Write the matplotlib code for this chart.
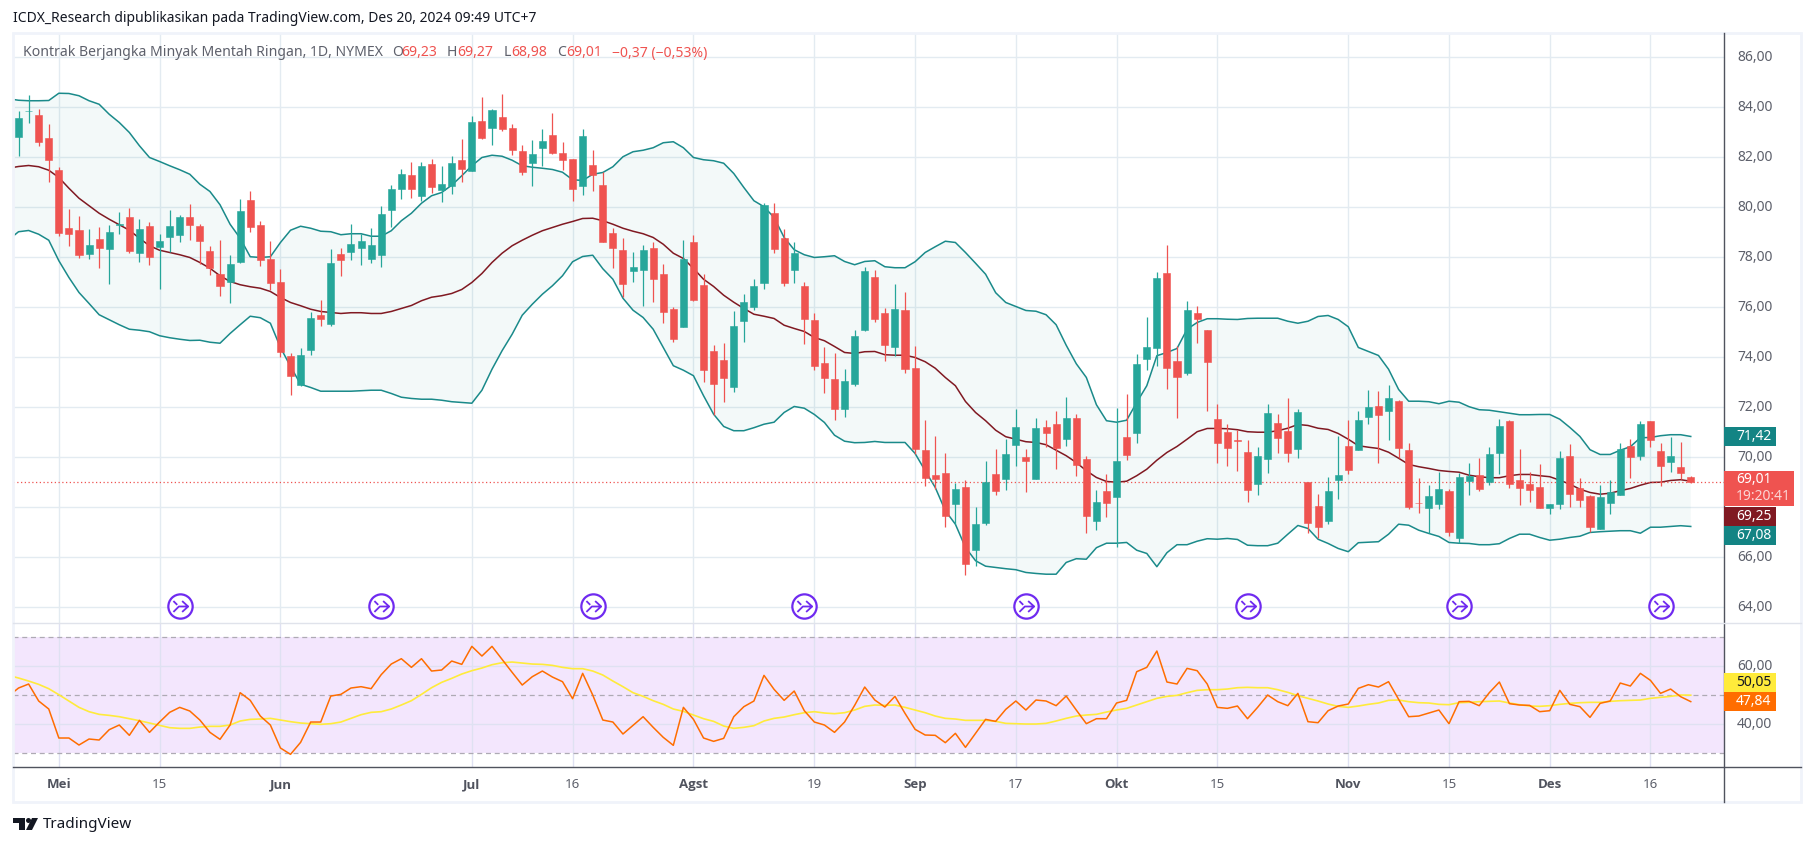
import matplotlib
matplotlib.use('Agg')
import matplotlib.pyplot as plt
from matplotlib.patches import Rectangle, Circle, Polygon
from matplotlib.path import Path
from matplotlib.transforms import ScaledTranslation

plt.rcParams['font.family'] = ['Noto Sans', 'DejaVu Sans']

# daily OHLC
opens = [82.83, 83.85, 83.71, 82.79, 81.51, 79.19, 79.11, 78.15, 78.75, 78.35,
         79.30, 79.63, 78.19, 79.27, 78.43, 78.83, 78.91, 79.63, 79.27, 78.27,
         77.35, 77.03, 77.83, 80.31, 79.31, 77.95, 77.03, 74.07, 72.91, 74.31,
         75.71, 75.35, 78.15, 78.23, 78.39, 77.95, 78.11, 79.91, 80.75, 81.31,
         80.47, 81.75, 80.71, 80.87, 81.91, 81.47, 83.47, 83.19, 83.63, 83.19,
         82.27, 81.79, 82.39, 82.91, 82.19, 81.95, 80.87, 81.71, 80.91, 78.99,
         78.31, 77.47, 77.51, 78.39, 77.35, 75.95, 75.23, 78.63, 76.91, 74.27,
         73.91, 72.83, 75.47, 76.03, 76.99, 79.79, 78.79, 77.51, 76.87, 75.51,
         73.79, 73.15, 71.95, 72.95, 75.11, 77.23, 75.79, 74.43, 75.91, 73.59,
         70.31, 69.31, 69.39, 68.15, 68.83, 66.31, 67.39, 69.35, 69.15, 70.51,
         70.03, 69.15, 71.23, 71.35, 70.75, 71.59, 69.95, 67.47, 68.67, 68.43,
         70.83, 70.99, 73.95, 74.39, 77.39, 73.87, 73.39, 75.79, 75.11, 71.55,
         71.03, 70.71, 70.23, 68.95, 69.95, 71.39, 71.07, 70.35, 69.03, 68.07,
         67.47, 69.11, 70.47, 70.31, 71.63, 72.07, 71.87, 72.27, 70.31, 68.19,
         67.99, 68.15, 68.67, 66.79, 69.07, 69.31, 69.03, 70.19, 71.47, 69.11,
         68.95, 68.83, 67.99, 68.15, 70.07, 68.79, 68.47, 67.15, 68.19, 68.51,
         70.47, 70.07, 71.47, 70.27, 69.83, 69.63, 69.23]
highs = [83.87, 84.51, 83.95, 83.35, 81.63, 79.95, 79.67, 79.15, 79.23, 79.31,
         79.83, 79.99, 79.55, 79.43, 78.95, 79.91, 79.71, 80.15, 79.35, 78.47,
         78.71, 78.11, 80.35, 80.67, 79.47, 78.67, 77.55, 74.19, 74.39, 75.83,
         76.31, 78.35, 78.39, 79.35, 78.95, 79.19, 80.07, 80.91, 81.55, 81.83,
         81.83, 81.95, 81.67, 82.07, 82.75, 83.67, 84.43, 83.95, 84.55, 83.35,
         82.51, 82.71, 83.15, 83.79, 82.63, 81.95, 83.15, 82.31, 81.40, 79.19,
         78.79, 78.23, 78.51, 78.63, 77.75, 76.03, 78.71, 78.91, 77.33, 74.51,
         74.59, 75.87, 76.55, 77.15, 80.19, 80.19, 79.15, 78.63, 77.03, 75.79,
         74.43, 74.19, 73.55, 75.11, 77.63, 77.51, 75.99, 76.95, 76.63, 74.47,
         71.51, 70.87, 70.19, 68.99, 69.11, 68.03, 69.87, 70.35, 70.75, 71.95,
         70.35, 71.59, 71.51, 71.87, 72.43, 71.75, 70.07, 68.71, 69.35, 71.99,
         72.55, 74.15, 75.63, 77.43, 78.51, 74.47, 76.27, 76.07, 75.11, 72.13,
         71.35, 71.11, 70.71, 70.43, 72.15, 71.75, 72.39, 71.95, 69.03, 68.55,
         69.23, 70.87, 71.51, 71.87, 72.71, 72.67, 72.91, 72.31, 70.59, 69.19,
         68.91, 69.43, 68.75, 69.39, 69.79, 69.99, 70.43, 71.55, 71.51, 70.35,
         69.43, 69.75, 68.15, 70.27, 70.55, 69.19, 68.51, 68.91, 69.11, 70.59,
         70.75, 71.47, 71.47, 70.59, 70.83, 70.63, 69.27]
lows = [82.04, 83.39, 82.44, 81.00, 78.87, 78.47, 77.96, 77.95, 77.59, 76.95,
        78.95, 78.19, 77.83, 77.71, 76.75, 78.23, 78.63, 78.71, 77.73, 77.31,
        76.47, 76.19, 77.79, 79.03, 77.67, 76.71, 74.03, 72.51, 72.87, 74.11,
        75.27, 75.27, 77.27, 77.91, 77.71, 77.79, 77.63, 79.23, 80.35, 80.39,
        80.27, 80.59, 80.23, 80.55, 81.03, 81.47, 82.75, 82.51, 83.07, 82.11,
        81.31, 80.87, 81.67, 82.15, 81.51, 80.27, 80.51, 80.67, 78.60, 77.59,
        76.43, 77.03, 76.07, 76.23, 75.39, 74.63, 75.23, 76.27, 73.03, 71.71,
        72.23, 72.63, 74.63, 75.91, 76.75, 78.19, 76.87, 76.99, 74.55, 73.51,
        72.59, 71.51, 71.63, 72.87, 75.07, 75.43, 73.87, 74.07, 73.39, 70.13,
        68.87, 68.75, 67.23, 67.35, 65.31, 65.67, 67.31, 68.51, 68.71, 69.67,
        68.63, 69.15, 70.43, 69.55, 70.47, 69.27, 66.99, 67.11, 67.63, 66.40,
        69.91, 70.56, 73.51, 73.67, 72.75, 71.59, 73.31, 74.59, 71.87, 69.76,
        69.67, 69.47, 68.23, 68.51, 69.39, 70.19, 69.83, 69.99, 66.99, 66.79,
        67.35, 68.35, 69.35, 70.31, 71.35, 69.79, 70.71, 69.99, 67.95, 67.79,
        66.99, 67.95, 66.87, 66.59, 68.51, 68.67, 68.91, 69.35, 68.79, 68.11,
        68.23, 67.99, 67.75, 67.95, 68.03, 68.03, 67.03, 67.15, 67.75, 68.51,
        69.19, 69.91, 70.43, 68.87, 69.43, 69.15, 68.98]
closes = [83.59, 83.86, 82.63, 81.91, 78.99, 78.95, 78.11, 78.51, 78.39, 79.03,
          79.32, 78.27, 79.15, 78.03, 78.67, 79.27, 79.63, 79.31, 78.67, 77.59,
          76.87, 77.75, 79.87, 79.23, 77.91, 76.99, 74.23, 73.27, 74.11, 75.59,
          75.55, 77.79, 77.91, 78.55, 78.67, 78.51, 79.75, 80.75, 81.35, 80.75,
          81.67, 80.83, 80.95, 81.79, 81.55, 83.43, 82.79, 83.91, 83.15, 82.31,
          81.43, 82.15, 82.67, 82.19, 81.91, 80.75, 82.87, 81.31, 78.63, 78.39,
          76.95, 77.63, 78.31, 77.15, 75.83, 74.75, 77.95, 76.31, 73.51, 72.95,
          73.19, 75.27, 76.23, 76.87, 80.11, 78.35, 76.99, 78.19, 75.55, 73.67,
          73.19, 71.95, 73.07, 74.87, 77.47, 75.55, 74.51, 75.95, 73.55, 70.35,
          69.19, 69.15, 67.67, 68.75, 65.75, 67.35, 69.03, 68.67, 70.15, 71.23,
          69.87, 71.19, 70.99, 70.39, 71.59, 69.71, 67.67, 68.23, 68.19, 69.87,
          70.11, 73.75, 74.43, 77.19, 73.59, 73.23, 75.91, 75.55, 73.83, 70.59,
          70.39, 70.67, 68.71, 70.07, 71.79, 70.79, 70.19, 71.83, 67.39, 67.23,
          68.67, 69.31, 69.51, 71.51, 72.03, 71.71, 72.39, 70.39, 68.03, 68.16,
          68.47, 68.75, 67.03, 69.23, 69.27, 68.75, 70.15, 71.27, 68.95, 68.79,
          68.71, 67.99, 68.15, 69.99, 68.55, 68.31, 67.23, 68.43, 68.63, 70.35,
          70.03, 71.35, 70.71, 69.67, 70.07, 69.39, 69.01]

# bollinger bands, first value sits one bar left of the first candle
bb_upper = [84.35, 84.29, 84.27, 84.27, 84.28, 84.57, 84.56, 84.47, 84.27, 84.13,
            83.73, 83.40, 83.00, 82.47, 82.00, 81.84, 81.67, 81.51, 81.33, 80.93,
            80.64, 80.11, 79.33, 78.77, 78.03, 78.00, 78.03, 78.60, 79.09, 79.25,
            79.17, 79.05, 79.03, 78.91, 78.95, 78.95, 78.85, 78.85, 79.07, 79.47,
            79.77, 80.17, 80.47, 80.60, 80.89, 81.27, 81.67, 82.00, 82.09, 82.05,
            81.89, 81.67, 81.61, 81.57, 81.52, 81.41, 81.11, 81.08, 81.33, 81.40,
            81.63, 82.03, 82.23, 82.29, 82.39, 82.59, 82.63, 82.39, 82.00, 81.91,
            81.87, 81.77, 81.36, 80.80, 80.27, 80.03, 79.60, 78.80, 78.31, 78.11,
            78.00, 78.03, 78.07, 77.84, 77.71, 77.84, 77.87, 77.63, 77.59, 77.59,
            77.83, 78.20, 78.43, 78.65, 78.60, 78.20, 77.77, 77.33, 76.59, 76.20,
            76.04, 75.88, 75.85, 75.71, 75.31, 74.49, 73.75, 73.20, 72.11, 71.47,
            71.41, 71.49, 72.20, 72.87, 74.07, 74.20, 74.36, 75.13, 75.40, 75.55,
            75.55, 75.53, 75.52, 75.56, 75.57, 75.57, 75.57, 75.45, 75.37, 75.45,
            75.64, 75.68, 75.52, 75.23, 74.40, 74.24, 74.08, 73.53, 72.72, 72.25,
            72.25, 72.23, 72.15, 72.25, 72.21, 72.03, 71.91, 71.89, 71.83, 71.77,
            71.71, 71.71, 71.72, 71.72, 71.53, 71.20, 70.84, 70.31, 70.12, 70.12,
            70.29, 70.43, 70.79, 70.80, 70.87, 70.91, 70.91, 70.84]
bb_basis = [81.57, 81.64, 81.68, 81.63, 81.49, 81.20, 80.77, 80.37, 80.07, 79.77,
            79.53, 79.31, 79.09, 78.77, 78.47, 78.29, 78.20, 78.11, 78.00, 77.80,
            77.57, 77.27, 77.04, 76.91, 76.83, 76.77, 76.64, 76.40, 76.20, 76.07,
            75.93, 75.84, 75.80, 75.76, 75.79, 75.79, 75.76, 75.76, 75.84, 75.96,
            76.08, 76.27, 76.41, 76.47, 76.56, 76.72, 77.00, 77.36, 77.80, 78.17,
            78.47, 78.69, 78.89, 79.07, 79.20, 79.33, 79.44, 79.56, 79.57, 79.47,
            79.33, 79.17, 79.05, 78.95, 78.80, 78.53, 78.17, 77.96, 77.56, 77.13,
            76.84, 76.49, 76.21, 75.96, 75.73, 75.65, 75.56, 75.29, 75.16, 75.04,
            74.80, 74.67, 74.44, 74.20, 74.16, 74.23, 74.24, 74.11, 74.09, 74.09,
            74.00, 73.83, 73.57, 73.20, 72.87, 72.24, 71.80, 71.47, 71.09, 70.83,
            70.73, 70.63, 70.60, 70.51, 70.29, 70.07, 69.80, 69.47, 69.20, 69.04,
            69.01, 69.05, 69.27, 69.53, 69.89, 70.20, 70.44, 70.73, 71.03, 71.16,
            71.16, 71.15, 71.11, 71.03, 71.01, 71.01, 71.07, 71.17, 71.32, 71.28,
            71.17, 71.12, 70.96, 70.73, 70.47, 70.41, 70.36, 70.21, 69.97, 69.72,
            69.63, 69.56, 69.48, 69.44, 69.41, 69.29, 69.23, 69.19, 69.19, 69.27,
            69.32, 69.32, 69.27, 69.23, 69.09, 68.93, 68.73, 68.60, 68.53, 68.57,
            68.67, 68.76, 68.89, 69.00, 69.01, 69.08, 69.11, 69.05]
bb_lower = [78.70, 79.03, 79.08, 78.93, 78.69, 77.87, 77.20, 76.60, 76.16, 75.71,
            75.51, 75.31, 75.13, 75.09, 75.03, 74.87, 74.79, 74.73, 74.68, 74.69,
            74.61, 74.57, 74.96, 75.31, 75.65, 75.59, 75.37, 74.40, 73.64, 72.93,
            72.80, 72.65, 72.65, 72.65, 72.65, 72.67, 72.69, 72.69, 72.56, 72.41,
            72.36, 72.33, 72.33, 72.29, 72.23, 72.20, 72.17, 72.69, 73.53, 74.27,
            74.93, 75.69, 76.13, 76.53, 76.87, 77.27, 77.83, 78.04, 78.09, 77.55,
            77.13, 76.37, 75.89, 75.60, 75.13, 74.40, 73.67, 73.49, 73.27, 72.47,
            71.73, 71.24, 71.07, 71.07, 71.19, 71.33, 71.41, 71.80, 72.04, 71.97,
            71.72, 71.40, 70.89, 70.65, 70.59, 70.60, 70.64, 70.60, 70.60, 70.60,
            70.16, 69.47, 68.80, 67.87, 67.33, 66.40, 65.87, 65.65, 65.60, 65.55,
            65.51, 65.40, 65.36, 65.33, 65.33, 65.80, 65.95, 65.93, 66.39, 66.57,
            66.57, 66.60, 66.29, 66.16, 65.63, 66.19, 66.51, 66.51, 66.65, 66.75,
            66.73, 66.76, 66.72, 66.49, 66.47, 66.47, 66.57, 66.93, 67.28, 67.16,
            66.73, 66.56, 66.36, 66.23, 66.59, 66.61, 66.63, 66.93, 67.33, 67.29,
            67.09, 66.96, 66.84, 66.60, 66.57, 66.56, 66.51, 66.51, 66.55, 66.76,
            66.93, 66.93, 66.80, 66.69, 66.73, 66.80, 66.85, 67.00, 67.03, 67.05,
            67.07, 67.07, 66.97, 67.21, 67.21, 67.24, 67.27, 67.24]

# RSI and its moving average, same offset as the bands
rsi = [49.77, 52.53, 53.91, 48.05, 45.29, 35.29, 35.29, 32.87, 34.94, 34.60,
       38.16, 39.77, 36.21, 41.38, 37.24, 40.80, 44.14, 45.86, 44.60, 41.49,
       37.24, 34.83, 39.77, 50.92, 48.28, 42.87, 39.77, 31.84, 29.66, 33.79,
       40.80, 40.80, 49.77, 50.34, 52.53, 52.99, 52.30, 57.13, 60.80, 62.64,
       59.66, 62.64, 58.39, 58.74, 61.84, 60.69, 66.90, 63.56, 66.90, 62.41,
       57.93, 53.56, 56.44, 58.39, 56.32, 54.71, 48.85, 57.59, 50.11, 41.49,
       40.80, 36.67, 39.66, 42.64, 38.97, 35.52, 32.76, 45.86, 41.72, 35.29,
       34.14, 35.17, 42.64, 46.09, 48.05, 56.90, 52.07, 48.28, 51.49, 44.71,
       40.80, 39.77, 37.24, 40.80, 46.55, 52.87, 48.39, 45.98, 49.66, 43.79,
       38.28, 36.32, 36.21, 33.68, 36.90, 32.07, 36.90, 41.72, 41.03, 45.17,
       48.05, 44.94, 48.39, 48.05, 46.44, 49.77, 44.94, 40.23, 41.95, 41.95,
       47.36, 48.28, 58.16, 59.66, 65.29, 54.60, 53.91, 59.31, 58.51, 53.91,
       45.86, 45.52, 46.32, 41.95, 45.86, 50.11, 47.82, 46.44, 50.69, 40.92,
       40.57, 44.71, 46.32, 47.01, 52.41, 53.68, 52.87, 54.71, 48.62, 42.64,
       42.87, 43.91, 44.94, 40.23, 47.82, 47.93, 46.44, 50.92, 54.60, 47.13,
       46.67, 46.55, 44.37, 44.71, 51.72, 46.90, 46.09, 42.41, 47.24, 48.05,
       54.25, 53.22, 57.59, 55.17, 50.69, 52.18, 49.54, 47.84]
rsi_ma = [56.90, 55.98, 54.94, 53.79, 52.30, 50.23, 48.05, 45.86, 44.37, 43.45,
          43.10, 42.64, 41.95, 41.26, 40.46, 39.66, 38.85, 38.62, 38.62, 39.08,
          39.31, 39.31, 39.77, 41.15, 41.72, 41.84, 42.07, 41.49, 40.92, 40.46,
          40.23, 40.00, 40.23, 40.80, 42.07, 43.33, 44.14, 44.37, 45.29, 46.67,
          48.16, 50.34, 52.64, 54.48, 55.86, 57.36, 58.51, 59.43, 60.57, 61.26,
          61.49, 61.15, 60.80, 60.69, 60.34, 59.66, 59.20, 59.20, 58.39, 57.01,
          54.94, 52.99, 50.92, 49.66, 48.16, 46.90, 45.29, 44.48, 43.22, 41.95,
          41.03, 39.43, 38.62, 38.97, 39.54, 41.15, 42.07, 42.53, 43.33, 44.02,
          44.37, 43.91, 43.68, 44.02, 44.94, 46.21, 46.67, 46.55, 46.67, 45.86,
          44.94, 44.02, 42.87, 42.07, 41.84, 41.38, 41.38, 41.38, 41.03, 40.34,
          40.23, 40.11, 40.11, 40.34, 41.15, 42.07, 42.87, 43.22, 43.45, 44.25,
          44.94, 45.52, 46.67, 47.82, 48.97, 49.66, 50.00, 50.92, 51.72, 51.95,
          51.95, 52.18, 52.64, 52.76, 52.64, 52.64, 51.95, 51.03, 49.89, 48.97,
          48.05, 47.01, 46.21, 45.86, 46.32, 46.90, 47.36, 48.28, 48.39, 47.82,
          47.47, 47.36, 46.90, 46.78, 47.47, 47.59, 47.82, 47.93, 48.05, 47.36,
          46.78, 46.32, 46.21, 46.44, 46.90, 47.24, 47.47, 47.59, 47.59, 47.93,
          48.16, 48.28, 48.39, 48.97, 49.31, 49.66, 50.11, 50.05]

time_ticks = [4, 14, 26, 45, 55, 67, 79, 89, 99, 109, 119, 132, 142, 152, 162]
time_labels = ['Mei', '15', 'Jun', 'Jul', '16', 'Agst', '19', 'Sep', '17', 'Okt', '15', 'Nov', '15', 'Des', '16']
months = ['Mei', 'Jun', 'Jul', 'Agst', 'Sep', 'Okt', 'Nov', 'Des']
price_ticks = [64, 66, 68, 70, 72, 74, 76, 78, 80, 82, 84, 86]
# 68,00 sits behind the value pads in the original
price_labels = ['64,00', '66,00', '', '70,00', '72,00', '74,00', '76,00', '78,00', '80,00', '82,00', '84,00', '86,00']
rsi_ticks = [40, 60]
rsi_labels = ['40,00', '60,00']
event_bars = [16, 36, 57, 78, 100, 122, 143, 163]
event_price = 64.05
last_price = 69.01

UP = '#26a69a'
DOWN = '#ef5350'
BAND = '#1a8a8a'
GRID = '#e3ebf1'
TEXT = '#5d606b'

W, H = 1814, 846
LEFT, RIGHT, TOP, SPLIT, BOTTOM = 13, 1724, 33, 622.7, 767
FRAME_R, FRAME_B = 1801, 802

fig = plt.figure(figsize=(W / 100, H / 100), dpi=100, facecolor='white')
ax = fig.add_axes([LEFT / W, 1 - SPLIT / H, (RIGHT - LEFT) / W, (SPLIT - TOP) / H])
ax2 = fig.add_axes([LEFT / W, 1 - BOTTOM / H, (RIGHT - LEFT) / W, (BOTTOM - SPLIT) / H])
ov = fig.add_axes([0, 0, 1, 1], zorder=5)
ov.set_xlim(0, W)
ov.set_ylim(H, 0)
ov.axis('off')

xlim = (-0.55, 169.3)
bars = list(range(len(closes)))
line_x = [b - 1 for b in range(len(bb_upper))]

# price pane
ax.set_xlim(xlim)
ax.set_ylim(63.39, 86.98)
ax.set_xticks(time_ticks)
ax.tick_params(axis='x', length=0, labelbottom=False)
ax.yaxis.tick_right()
ax.tick_params(axis='y', length=0, pad=9.4, labelsize=10, labelcolor=TEXT)
ax.set_yticks(price_ticks)
ax.set_yticklabels(price_labels)
ax.grid(True, color=GRID, lw=1)
ax.set_axisbelow(True)
for s in ax.spines.values():
    s.set_visible(False)

ax.fill(line_x + line_x[::-1], bb_upper + bb_lower[::-1], color=BAND, alpha=0.05, lw=0, zorder=1)
ax.plot(line_x, bb_upper, color=BAND, lw=1.1, zorder=2)
ax.plot(line_x, bb_lower, color=BAND, lw=1.1, zorder=2)
ax.plot(line_x, bb_basis, color='#801922', lw=1.1, zorder=2)
ax.axhline(last_price, color=DOWN, lw=0.9, ls=(0, (1, 2)), zorder=2)

cols = [UP if c > o else DOWN for o, c in zip(opens, closes)]
ax.vlines(bars, lows, highs, colors=cols, lw=0.9, zorder=3)
ax.bar(bars, [abs(c - o) for o, c in zip(opens, closes)], bottom=[min(o, c) for o, c in zip(opens, closes)],
       width=0.7, color=cols, edgecolor=cols, lw=0.4, zorder=4)

# event icons
glyph = Path([(-0.65, -0.5), (-0.15, 0), (0.7, 0), (0.15, -0.5), (0.7, 0), (0.15, 0.5), (-0.65, 0.5), (-0.3, 0.15)],
             [Path.MOVETO, Path.LINETO, Path.LINETO, Path.MOVETO, Path.LINETO, Path.LINETO, Path.MOVETO, Path.LINETO])
event_y = [event_price] * len(event_bars)
ax.plot(event_bars, event_y, ls='', marker='o', ms=17.5, mfc='white', mec='#6f2af0', mew=1.6, zorder=6)
ax.plot(event_bars, event_y, ls='', marker=glyph, ms=11, mfc='none', mec='#6f2af0', mew=1.3, zorder=7)

# RSI pane
ax2.set_xlim(xlim)
ax2.set_ylim(25.29, 75.06)
ax2.axhspan(30, 70, color='#f3e6fd', lw=0, zorder=0)
ax2.yaxis.tick_right()
ax2.tick_params(axis='y', length=0, pad=9.4, labelsize=10, labelcolor=TEXT)
ax2.tick_params(axis='x', length=0, pad=8, labelsize=9.5, labelcolor=TEXT)
ax2.set_yticks(rsi_ticks)
ax2.set_yticklabels(rsi_labels)
ax2.set_xticks(time_ticks)
ax2.set_xticklabels(time_labels)
for lab in ax2.get_xticklabels():
    if lab.get_text() in months:
        lab.set_family('Open Sans')
        lab.set_fontweight('bold')
        lab.set_color('#50535e')
ax2.grid(True, color='#dfe1f2', lw=1, zorder=1)
ax2.set_axisbelow(True)
for s in ax2.spines.values():
    s.set_visible(False)
for lvl in [30, 50, 70]:
    ax2.axhline(lvl, color='#aeaab4', lw=0.9, ls=(0, (4, 3)), zorder=2)
ax2.plot(line_x, rsi_ma, color='#ffeb3b', lw=1.2, zorder=3)
ax2.plot(line_x, rsi, color='#ff6d00', lw=1.1, zorder=4)

# scale labels sit a little above their gridline
lift = ScaledTranslation(0, 2 / 100, fig.dpi_scale_trans)
for a in (ax, ax2):
    for t in a.yaxis.get_major_ticks():
        t.label2.set_transform(t.label2.get_transform() + lift)

# chart frame and axis lines
ov.add_patch(Rectangle((LEFT, TOP), FRAME_R - LEFT, FRAME_B - TOP, fill=False, ec='#f0f3fa', lw=2))
ov.plot([RIGHT, RIGHT], [TOP, FRAME_B], color='#50535e', lw=1)
ov.plot([LEFT, FRAME_R], [BOTTOM, BOTTOM], color='#50535e', lw=1)
ov.plot([LEFT, FRAME_R], [SPLIT, SPLIT], color='#e0e3eb', lw=1)

# value pads on the scale
def pad(y0, y1, x1, color, label, tcolor='white', size=10):
    ov.add_patch(Rectangle((RIGHT, y0), x1 - RIGHT, y1 - y0, color=color, lw=0, zorder=3))
    ov.text(RIGHT + 12, (y0 + y1) / 2, label, color=tcolor, fontsize=size, va='center', ha='left', zorder=4)

pad(427.3, 445.7, 1776, '#138484', '71,42')
pad(471, 505.7, 1794, DOWN, '', 'white')
ov.text(RIGHT + 12, 479.5, '69,01', color='white', fontsize=10, va='center', zorder=4)
ov.text(RIGHT + 12, 496.5, '19:20:41', color='#fbd5d4', fontsize=10, va='center', zorder=4)
pad(506.7, 525.7, 1776, '#801922', '69,25')
pad(526, 544.7, 1776, '#138484', '67,08')
pad(673, 691.7, 1776, '#ffeb3b', '50,05', '#131722')
pad(692, 710.7, 1776, '#ff6d00', '47,84')

# header and legend
ov.text(13, 18, 'ICDX_Research dipublikasikan pada TradingView.com, Des 20, 2024 09:49 UTC+7',
        color='#131722', fontsize=10, va='center')
ov.text(23, 53, 'Kontrak Berjangka Minyak Mentah Ringan, 1D, NYMEX', color=TEXT, fontsize=10.1, va='center')
for x, s, c in [(392, 'O', TEXT), (401, '69,23', DOWN), (447, 'H', TEXT), (457, '69,27', DOWN),
                (504, 'L', TEXT), (511, '68,98', DOWN), (557, 'C', TEXT), (566, '69,01', DOWN),
                (612, '\u22120,37 (\u22120,53%)', DOWN)]:
    ov.text(x, 53, s, color=c, fontsize=10.1, va='center')

# TradingView logo
ov.add_patch(Polygon([(13, 818), (25, 818), (25, 830), (19, 830), (19, 823), (13, 823)], color='#131722', lw=0))
ov.add_patch(Circle((28.5, 820.5), 2.5, color='#131722', lw=0))
ov.add_patch(Polygon([(32, 818), (38, 818), (32, 830), (26, 830)], color='#131722', lw=0))
ov.text(43, 824, 'TradingView', color='#131722', fontsize=11, va='center')

fig.savefig('out.png', dpi=100)
